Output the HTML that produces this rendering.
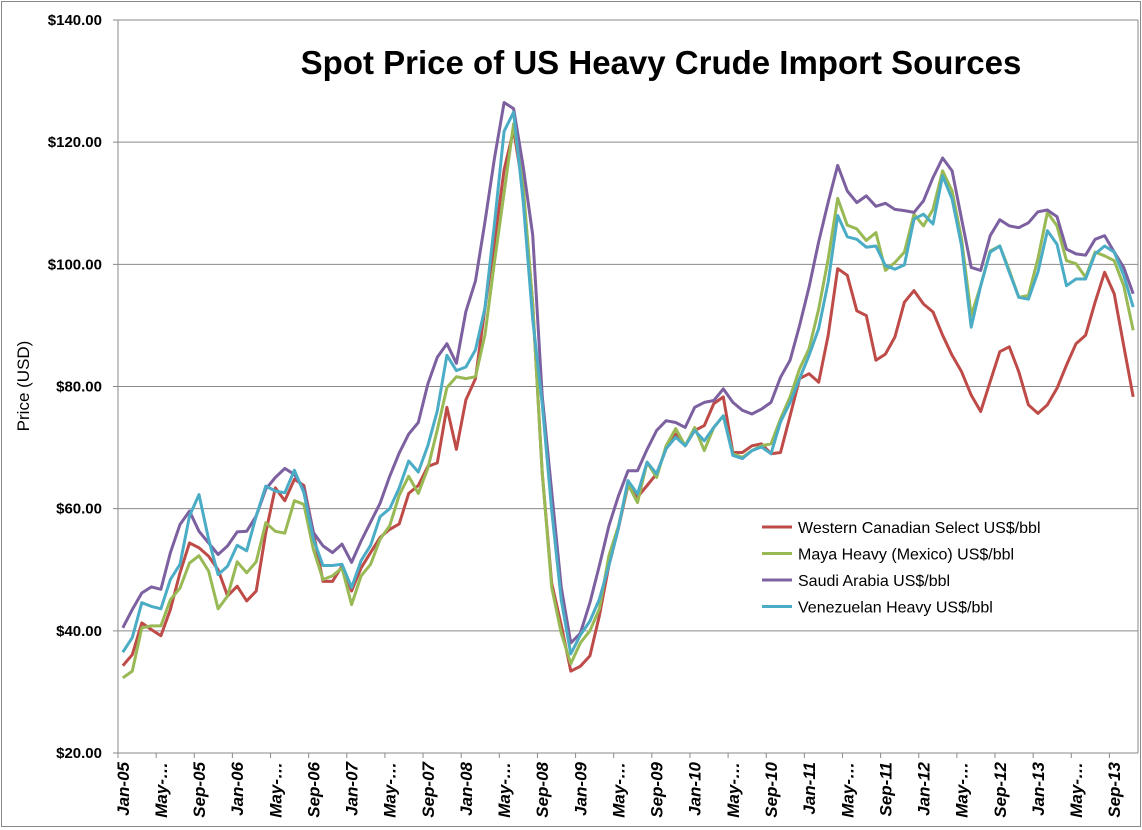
<!DOCTYPE html>
<html><head><meta charset="utf-8"><style>
body{margin:0;background:#fff;}
svg{display:block;font-family:"Liberation Sans",sans-serif;}
</style></head><body>
<svg id="chart" width="1142" height="830" viewBox="0 0 1142 830" xmlns="http://www.w3.org/2000/svg">
<rect x="1.5" y="1.5" width="1139" height="825" fill="#fff" stroke="#888" stroke-width="1"/>
<text x="661" y="74" text-anchor="middle" font-size="33" font-weight="bold" fill="#000">Spot Price of US Heavy Crude Import Sources</text>
<text transform="translate(29,386) rotate(-90)" text-anchor="middle" font-size="17" fill="#000">Price (USD)</text>
<g id="grid"></g><g id="yticks"></g><g id="xticks"></g><g id="series"></g><g id="legend"></g>
</svg>
<script>
const categories = (function(){const m=["Jan","Feb","Mar","Apr","May","Jun","Jul","Aug","Sep","Oct","Nov","Dec"];const a=[];for(let y=5;y<=13;y++)for(let k=0;k<12;k++){a.push(m[k]+"-"+(y<10?"0"+y:y));}return a.slice(0,107);})();
const yTicks = [20,40,60,80,100,120,140];
const yTickLabels = ["$20.00","$40.00","$60.00","$80.00","$100.00","$120.00","$140.00"];
const seriesNames = ["Western Canadian Select US$/bbl","Maya Heavy (Mexico) US$/bbl","Saudi Arabia US$/bbl","Venezuelan Heavy US$/bbl"];
const wcs = [34.3,36.1,41.3,40.2,39.2,43.5,49.5,54.4,53.6,52.2,50,45.7,47.3,44.9,46.5,56.1,63.4,61.3,64.8,63.8,56.1,48.1,48.1,50.6,46.5,50.3,52.8,55.3,56.6,57.5,62.5,63.8,66.9,67.5,76.6,69.7,77.8,81.3,92.9,103.6,115.5,122,112.4,93.5,65.9,47.8,40.9,33.4,34.2,35.9,42.5,50.7,56.9,63.8,61.9,63.8,65.7,69.8,72.2,70.3,72.8,73.6,77.2,78.3,69.2,69.2,70.3,70.6,69,69.2,75.2,81.3,82.1,80.7,88.4,99.3,98.2,92.4,91.6,84.3,85.3,88.1,93.8,95.7,93.5,92.2,88.4,85.1,82.4,78.6,75.9,80.8,85.7,86.5,82.4,77,75.6,77,79.7,83.5,87,88.4,93.8,98.7,95.2,86.7,78.3];
const maya = [32.3,33.4,40.5,40.8,40.8,45.1,47,51.1,52.3,49.8,43.6,45.7,51.3,49.5,51.3,57.7,56.3,56,61.3,60.7,53.3,48.4,49,50.3,44.3,49,50.9,55,57.2,62.2,65.3,62.5,66.6,72.9,79.8,81.6,81.3,81.6,88.5,100.4,111.7,123,113,93.5,65.9,47.1,39.6,34.6,38,40,43.6,52.3,57.2,64,61,67.6,65.1,70.3,73.1,70.3,73.3,69.5,73.3,75.2,69,68.4,69.5,70.3,70.6,74.7,78.3,82.9,86.2,92.7,100.9,110.8,106.4,105.8,103.9,105.2,99,100.3,102,108.2,106.3,109,115.3,112,104.1,91.6,96.5,102.2,103,99,94.6,94.9,100.9,108.5,106.3,100.6,100.1,97.9,102,101.4,100.6,96.5,89.2];
const saudi = [40.5,43.5,46.2,47.2,46.8,52.8,57.4,59.6,56.3,54.4,52.5,53.9,56.2,56.3,58.8,63.2,65.1,66.6,65.6,63.2,56.1,53.9,52.8,54.2,51.2,54.7,57.8,60.9,65.3,69.1,72.2,74.1,80.4,84.8,87,83.8,92.3,97.3,107,117.4,126.5,125.5,116.1,104.8,78.5,62.8,47.1,38,39.6,44.6,50.7,57.2,62.1,66.2,66.2,69.7,72.8,74.4,74.1,73.3,76.6,77.4,77.7,79.6,77.4,76.1,75.5,76.3,77.4,81.5,84.3,90,96.3,103.7,110.2,116.2,112,110.1,111.2,109.5,110,109,108.8,108.5,110.4,114.2,117.4,115.3,107.4,99.5,99,104.7,107.3,106.3,106,106.8,108.6,108.9,107.8,102.5,101.7,101.5,104.1,104.7,102,99.5,95.2];
const venez = [36.5,38.9,44.6,44,43.6,48.4,50.9,58.8,62.3,55,49.2,50.6,54,53.1,58.8,63.7,62.9,62.6,66.3,62.6,55,50.7,50.7,50.9,47.1,51.5,54,58.7,60,63.4,67.8,66,70.3,76,85.1,82.6,83.2,86,92.9,106.7,121.8,124.9,110.5,91,77.2,59.7,45,36.2,39.3,41.6,45.2,50.7,56.9,64.6,62.4,67.6,65.7,69.8,71.7,70.3,72.8,71.1,73.3,75.2,68.7,68.2,69.5,70.1,69,74.2,77.4,81.3,85.1,89.5,97.1,108,104.5,104.1,102.8,103,99.8,99.2,99.9,107.4,108.2,106.6,114.5,110.7,103,89.7,96.5,102,103,98.7,94.6,94.3,98.7,105.5,103.3,96.5,97.6,97.6,101.7,103,102,98.2,93];
const colors = ["#be4b48","#98b954","#7d60a0","#4bacc6"];
const NS="http://www.w3.org/2000/svg";
const L=118,R=1138,T=20,B=753,yMin=20,yMax=140;
const bw=(R-L)/categories.length;
function xPos(i){return L+bw*(i+0.5);}
function yPos(v){return B-(v-yMin)/(yMax-yMin)*(B-T);}
function mk(tag,attrs,parent){const e=document.createElementNS(NS,tag);for(const k in attrs)e.setAttribute(k,attrs[k]);parent.appendChild(e);return e;}
const grid=document.getElementById('grid'),yt=document.getElementById('yticks'),xt=document.getElementById('xticks');
yTicks.forEach((v,k)=>{
  const ln=mk('line',{x1:L-5,x2:R,y1:yPos(v),y2:yPos(v),stroke:'#8a8a8a','stroke-width':1},grid);
  
  
  const t=mk('text',{x:102,y:yPos(v)+5,'text-anchor':'end','font-size':15,'font-weight':'bold',fill:'#000'},yt);
  t.textContent=yTickLabels[k];
  
  
});
const ax=mk('line',{x1:L,x2:L,y1:T,y2:B,stroke:'#8a8a8a','stroke-width':1},grid);


const rx=mk('line',{x1:R,x2:R,y1:T,y2:B,stroke:'#8a8a8a','stroke-width':1},grid);


for(let i=0;i<categories.length;i+=4){
  const tk=mk('line',{x1:L+bw*i,x2:L+bw*i,y1:B,y2:B+5,stroke:'#8a8a8a'},xt);
  
  
  let lab=categories[i]; if(lab.startsWith('May'))lab='May-…';
  const t=mk('text',{transform:'translate('+(xPos(i)+6)+',762) rotate(-90)','text-anchor':'end','font-size':17,'font-weight':'bold','font-style':'italic',fill:'#000'},xt);
  t.textContent=lab;
  
  
}
const sg=document.getElementById('series'),lg=document.getElementById('legend');
[wcs,maya,saudi,venez].forEach((arr,s)=>{
  const d=arr.map((v,i)=>(i?'L':'M')+xPos(i).toFixed(1)+','+yPos(v).toFixed(1)).join(' ');
  const p=mk('path',{d:d,fill:'none',stroke:colors[s],'stroke-width':3,'stroke-linejoin':'round'},sg);
  
  
  const y=527+s*26.5;
  const ll=mk('line',{x1:762,x2:792,y1:y,y2:y,stroke:colors[s],'stroke-width':3},lg);
  
  
  const t=mk('text',{x:798,y:y+6,'font-size':16,fill:'#000'},lg);
  t.textContent=seriesNames[s];
  
  
});
</script>
</body></html>
